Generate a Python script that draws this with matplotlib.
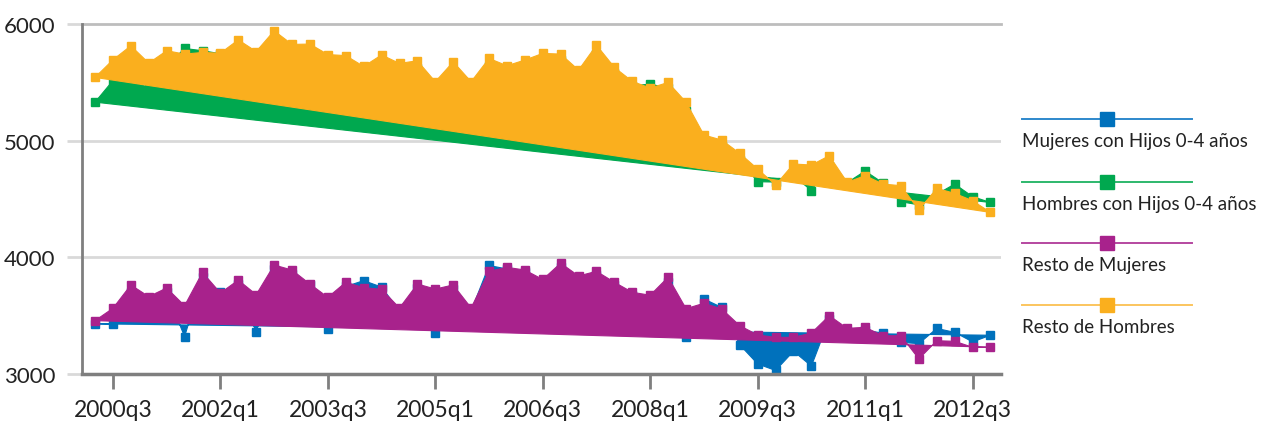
import matplotlib.pyplot as plt
from matplotlib.lines import Line2D

plt.rcParams['font.family'] = ['Lato', 'DejaVu Sans']

# quarters 2000q2 .. 2012q4
quarters = [f"{y}q{q}" for y in range(2000, 2013) for q in range(1, 5)][1:]
tick_labels = ["2000q3", "2002q1", "2003q3", "2005q1", "2006q3",
               "2008q1", "2009q3", "2011q1", "2012q3"]

mujeres_hijos = [3430, 3428, 3700, 3620, 3700, 3320, 3830, 3700, 3770, 3357,
                 3900, 3860, 3760, 3383, 3750, 3800, 3745, 3540, 3740, 3349,
                 3730, 3540, 3930, 3900, 3870, 3790, 3920, 3810, 3850, 3760,
                 3680, 3650, 3790, 3320, 3643, 3570, 3250, 3086, 3030, 3195,
                 3068, 3470, 3370, 3375, 3350, 3271, 3260, 3390, 3357, 3275,
                 3332]
hombres_hijos = [5330, 5515, 5500, 5460, 5640, 5790, 5771, 5745, 5780, 5700,
                 5820, 5760, 5750, 5680, 5660, 5590, 5660, 5600, 5620, 5460,
                 5600, 5470, 5640, 5590, 5630, 5680, 5690, 5560, 5740, 5580,
                 5470, 5485, 5450, 5250, 5000, 4950, 4830, 4648, 4645, 4700,
                 4572, 4780, 4640, 4740, 4637, 4476, 4450, 4540, 4628, 4520,
                 4470]
resto_mujeres = [3457, 3563, 3763, 3663, 3737, 3585, 3871, 3694, 3805, 3680,
                 3934, 3891, 3771, 3657, 3786, 3740, 3725, 3566, 3771, 3728,
                 3763, 3566, 3880, 3914, 3891, 3810, 3950, 3840, 3880, 3786,
                 3700, 3675, 3830, 3560, 3606, 3557, 3414, 3334, 3314, 3314,
                 3351, 3500, 3391, 3400, 3328, 3328, 3129, 3285, 3280, 3229,
                 3229]
resto_hombres = [5542, 5693, 5813, 5665, 5771, 5742, 5756, 5750, 5864, 5764,
                 5942, 5825, 5828, 5738, 5729, 5636, 5735, 5662, 5685, 5505,
                 5676, 5505, 5705, 5642, 5691, 5748, 5742, 5605, 5819, 5628,
                 5508, 5451, 5499, 5330, 5048, 5005, 4891, 4757, 4620, 4800,
                 4791, 4871, 4643, 4700, 4628, 4614, 4405, 4591, 4548, 4485,
                 4385]

labels = ["Mujeres con Hijos 0-4 años", "Hombres con Hijos 0-4 años",
          "Resto de Mujeres", "Resto de Hombres"]
series = [mujeres_hijos, hombres_hijos, resto_mujeres, resto_hombres]
colors = ["#0071BC", "#00A84F", "#A8228C", "#FAAF1E"]
legend_line_colors = ["#2E88CC", "#2DB86C", "#B548A0", "#FBC55E"]

fig = plt.figure(figsize=(12.69, 4.31), dpi=100)
ax = fig.add_axes([0.0646, 0.130, 0.7244, 0.812])

x = list(range(len(quarters)))
for k, (vals, c) in enumerate(zip(series, colors)):
    ax.fill(x, vals, color=c, lw=0.8, zorder=2 + 2 * k)
    ax.plot(x, vals, ls="none", marker="s", ms=6.2, color=c, zorder=3 + 2 * k)

ax.set_xlim(-0.73, 50.6)
ax.set_ylim(3000, 6000)
ax.set_yticks([3000, 4000, 5000, 6000])
ax.set_xticks([quarters.index(t) for t in tick_labels])
ax.set_xticklabels(tick_labels)

for yv in [4000, 5000]:
    ax.axhline(yv, color="#d9d9d9", lw=2, zorder=1)
ax.axhline(6000, color="#bdbdbd", lw=2, zorder=1, clip_on=False)

for s in ["top", "right"]:
    ax.spines[s].set_visible(False)
ax.spines["left"].set_color("#7f7f7f")
ax.spines["left"].set_linewidth(2)
ax.spines["bottom"].set_color("#7f7f7f")
ax.spines["bottom"].set_linewidth(2.5)
ax.spines["bottom"].set_zorder(20)

ax.tick_params(axis="y", length=11, width=2, color="#d9d9d9", pad=8,
               labelsize=16, labelcolor="#222222")
ax.tick_params(axis="x", length=11, width=2, color="#7f7f7f", pad=7,
               labelsize=16.5, labelcolor="#222222")

# legend drawn on the right
leg_y = [120, 183, 244, 306]
H = 431.0
W = 1269.0
for lab, c, lc, yl in zip(labels, colors, legend_line_colors, leg_y):
    fy = 1 - yl / H
    fig.add_artist(Line2D([1022 / W, 1192 / W], [fy, fy], color=lc, lw=1.4))
    fig.add_artist(Line2D([1107 / W], [fy], marker="s", ms=10, color=c, lw=0))
    fig.text(1022 / W, 1 - (yl + 22) / H, lab, fontsize=13.5, color="#222222",
             va="center", ha="left")

fig.savefig("out.png", dpi=100)
